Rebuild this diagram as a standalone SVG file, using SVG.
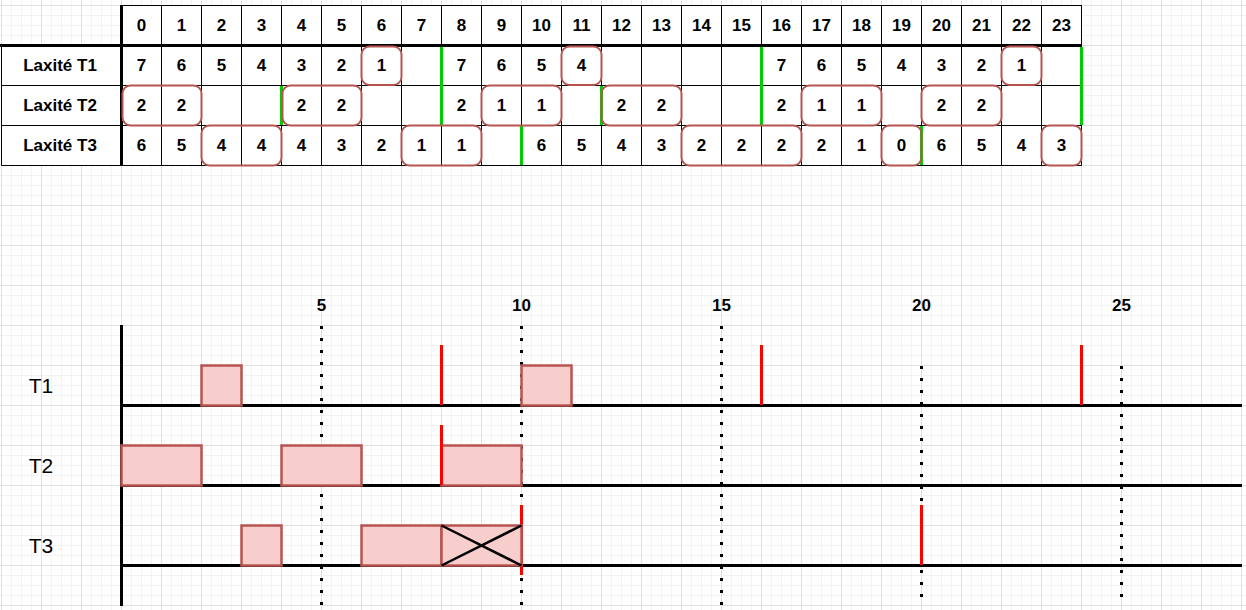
<svg xmlns="http://www.w3.org/2000/svg" width="1246" height="610" viewBox="0 0 1246 610">
<style>
.t{font-family:"Liberation Sans",Arial,Helvetica,sans-serif;font-size:17px;font-weight:bold;fill:#000;text-anchor:middle}
.lbl{font-family:"Liberation Sans",Arial,Helvetica,sans-serif;font-size:21px;fill:#000;text-anchor:middle}
.cell{stroke:#000;stroke-width:1;fill:none}
.thick{stroke:#000;stroke-width:3;fill:none}
.mark{fill:none;stroke:#b85450;stroke-width:2}
.green{stroke:#00cc00;stroke-width:3}
.red{stroke:#ff0000;stroke-width:3}
.base{stroke:#000;stroke-width:3}
.dot{stroke:#000;stroke-width:3;stroke-dasharray:3 9}
.job{fill:#f8cecc;stroke:#b85450;stroke-width:2.5}
</style>
<defs>
<pattern id="grid" patternUnits="userSpaceOnUse" x="1" y="5" width="40" height="40">
<path d="M10.5 0V40M20.5 0V40M30.5 0V40M0 10.5H40M0 20.5H40M0 30.5H40" stroke="#f3f3f3" stroke-width="1" fill="none"/>
<path d="M0.5 0V40M0 0.5H40" stroke="#e0e0e0" stroke-width="1" fill="none"/>
</pattern>
</defs>
<rect width="1246" height="610" fill="#ffffff"/>
<rect width="1246" height="610" fill="url(#grid)"/>

<g id="table">
<rect x="121.5" y="5.5" width="960" height="160" fill="#ffffff"/>
<rect x="1.5" y="45.5" width="120" height="120" fill="#ffffff"/>
<path class="cell" d="M121.5 5.5H1081.5M1.5 85.5H1081.5M1.5 125.5H1081.5M1.5 165.5H1081.5M1.5 45V165.5"/>
<path class="cell" d="M161.5 5V165.5M201.5 5V165.5M241.5 5V165.5M281.5 5V165.5M321.5 5V165.5M361.5 5V165.5M401.5 5V165.5M441.5 5V165.5M481.5 5V165.5M521.5 5V165.5M561.5 5V165.5M601.5 5V165.5M641.5 5V165.5M681.5 5V165.5M721.5 5V165.5M761.5 5V165.5M801.5 5V165.5M841.5 5V165.5M881.5 5V165.5M921.5 5V165.5M961.5 5V165.5M1001.5 5V165.5M1041.5 5V165.5M1081.5 5V165.5"/>
<path class="thick" d="M0 45.5H1081.5M121.5 5V166"/>
<g id="header">
<text class="t" x="141.5" y="31">0</text><text class="t" x="181.5" y="31">1</text><text class="t" x="221.5" y="31">2</text><text class="t" x="261.5" y="31">3</text><text class="t" x="301.5" y="31">4</text><text class="t" x="341.5" y="31">5</text><text class="t" x="381.5" y="31">6</text><text class="t" x="421.5" y="31">7</text><text class="t" x="461.5" y="31">8</text><text class="t" x="501.5" y="31">9</text><text class="t" x="541.5" y="31">10</text><text class="t" x="581.5" y="31">11</text><text class="t" x="621.5" y="31">12</text><text class="t" x="661.5" y="31">13</text><text class="t" x="701.5" y="31">14</text><text class="t" x="741.5" y="31">15</text><text class="t" x="781.5" y="31">16</text><text class="t" x="821.5" y="31">17</text><text class="t" x="861.5" y="31">18</text><text class="t" x="901.5" y="31">19</text><text class="t" x="941.5" y="31">20</text><text class="t" x="981.5" y="31">21</text><text class="t" x="1021.5" y="31">22</text><text class="t" x="1061.5" y="31">23</text>
</g>
<g id="row-t1">
<text class="t" x="60" y="71">Laxité T1</text>
<text class="t" x="141.5" y="71">7</text><text class="t" x="181.5" y="71">6</text><text class="t" x="221.5" y="71">5</text><text class="t" x="261.5" y="71">4</text><text class="t" x="301.5" y="71">3</text><text class="t" x="341.5" y="71">2</text><text class="t" x="381.5" y="71">1</text>
<text class="t" x="461.5" y="71">7</text><text class="t" x="501.5" y="71">6</text><text class="t" x="541.5" y="71">5</text><text class="t" x="581.5" y="71">4</text>
<text class="t" x="781.5" y="71">7</text><text class="t" x="821.5" y="71">6</text><text class="t" x="861.5" y="71">5</text><text class="t" x="901.5" y="71">4</text><text class="t" x="941.5" y="71">3</text><text class="t" x="981.5" y="71">2</text><text class="t" x="1021.5" y="71">1</text>
</g>
<g id="row-t2">
<text class="t" x="60" y="111">Laxité T2</text>
<text class="t" x="141.5" y="111">2</text><text class="t" x="181.5" y="111">2</text>
<text class="t" x="301.5" y="111">2</text><text class="t" x="341.5" y="111">2</text>
<text class="t" x="461.5" y="111">2</text><text class="t" x="501.5" y="111">1</text><text class="t" x="541.5" y="111">1</text>
<text class="t" x="621.5" y="111">2</text><text class="t" x="661.5" y="111">2</text>
<text class="t" x="781.5" y="111">2</text><text class="t" x="821.5" y="111">1</text><text class="t" x="861.5" y="111">1</text>
<text class="t" x="941.5" y="111">2</text><text class="t" x="981.5" y="111">2</text>
</g>
<g id="row-t3">
<text class="t" x="60" y="151">Laxité T3</text>
<text class="t" x="141.5" y="151">6</text><text class="t" x="181.5" y="151">5</text><text class="t" x="221.5" y="151">4</text><text class="t" x="261.5" y="151">4</text><text class="t" x="301.5" y="151">4</text><text class="t" x="341.5" y="151">3</text><text class="t" x="381.5" y="151">2</text><text class="t" x="421.5" y="151">1</text><text class="t" x="461.5" y="151">1</text>
<text class="t" x="541.5" y="151">6</text><text class="t" x="581.5" y="151">5</text><text class="t" x="621.5" y="151">4</text><text class="t" x="661.5" y="151">3</text><text class="t" x="701.5" y="151">2</text><text class="t" x="741.5" y="151">2</text><text class="t" x="781.5" y="151">2</text><text class="t" x="821.5" y="151">2</text><text class="t" x="861.5" y="151">1</text><text class="t" x="901.5" y="151">0</text><text class="t" x="941.5" y="151">6</text><text class="t" x="981.5" y="151">5</text><text class="t" x="1021.5" y="151">4</text><text class="t" x="1061.5" y="151">3</text>
</g>
<g id="green-marks">
<path class="green" d="M441.5 47V125M761.5 47V125M1081.5 47V125M281.5 86V125M601.5 86V125M521.5 126V165M921.5 126V165"/>
</g>
<g id="selection-marks">
<rect class="mark" x="361.5" y="46.5" width="40" height="38.5" rx="8"/>
<rect class="mark" x="561.5" y="46.5" width="40" height="38.5" rx="8"/>
<rect class="mark" x="1001.5" y="46.5" width="40" height="38.5" rx="8"/>
<rect class="mark" x="122.5" y="85.5" width="79" height="40" rx="8"/>
<rect class="mark" x="282.5" y="85.5" width="79" height="40" rx="8"/>
<rect class="mark" x="481.5" y="85.5" width="80" height="40" rx="8"/>
<rect class="mark" x="601.5" y="85.5" width="80" height="40" rx="8"/>
<rect class="mark" x="801.5" y="85.5" width="80" height="40" rx="8"/>
<rect class="mark" x="921.5" y="85.5" width="80" height="40" rx="8"/>
<rect class="mark" x="201.5" y="125.5" width="80" height="40" rx="8"/>
<rect class="mark" x="401.5" y="125.5" width="80" height="40" rx="8"/>
<rect class="mark" x="681.5" y="125.5" width="120" height="40" rx="8"/>
<rect class="mark" x="881.5" y="125.5" width="40" height="40" rx="8"/>
<rect class="mark" x="1041.5" y="125.5" width="40" height="40" rx="8"/>
</g>
</g>

<g id="timeline-scale">
<text class="t" x="321.5" y="311">5</text>
<text class="t" x="521.5" y="311">10</text>
<text class="t" x="721.5" y="311">15</text>
<text class="t" x="921.5" y="311">20</text>
<text class="t" x="1121.5" y="311">25</text>
</g>
<g id="connectors">
<path class="dot" d="M321.5 326V440M321.5 494V606M521.5 326V606M721.5 326V606M921.5 366V606M1121.5 366V606"/>
<path class="base" d="M121.5 325V606M121 405.5H1242M121 485.5H1242M121 565.5H1242"/>
<path class="red" d="M441.5 345V405M761.5 345V405M1081.5 345V405M521.5 505V575M921.5 505V565"/>
</g>
<g id="label-t1"><text class="lbl" x="41" y="393">T1</text></g>
<g id="label-t2"><text class="lbl" x="41" y="473">T2</text></g>
<g id="label-t3"><text class="lbl" x="41" y="553">T3</text></g>
<g id="t1-jobs">
<rect class="job" x="201.5" y="365.5" width="40" height="40"/>
<rect class="job" x="521.5" y="365.5" width="50" height="40"/>
</g>
<g id="t2-jobs">
<rect class="job" x="121.5" y="445.5" width="80" height="40"/>
<rect class="job" x="281.5" y="445.5" width="80" height="40"/>
<rect class="job" x="441.5" y="445.5" width="80" height="40"/>
<path class="red" d="M441.5 425V485"/>
</g>
<g id="t3-jobs">
<rect class="job" x="241.5" y="525.5" width="40" height="40"/>
<rect class="job" x="361.5" y="525.5" width="80" height="40"/>
<rect class="job" x="441.5" y="525.5" width="80" height="40"/>
<path d="M441.5 525.5L521.5 565.5M441.5 565.5L521.5 525.5" stroke="#000" stroke-width="2.5" fill="none"/>
</g>
</svg>
